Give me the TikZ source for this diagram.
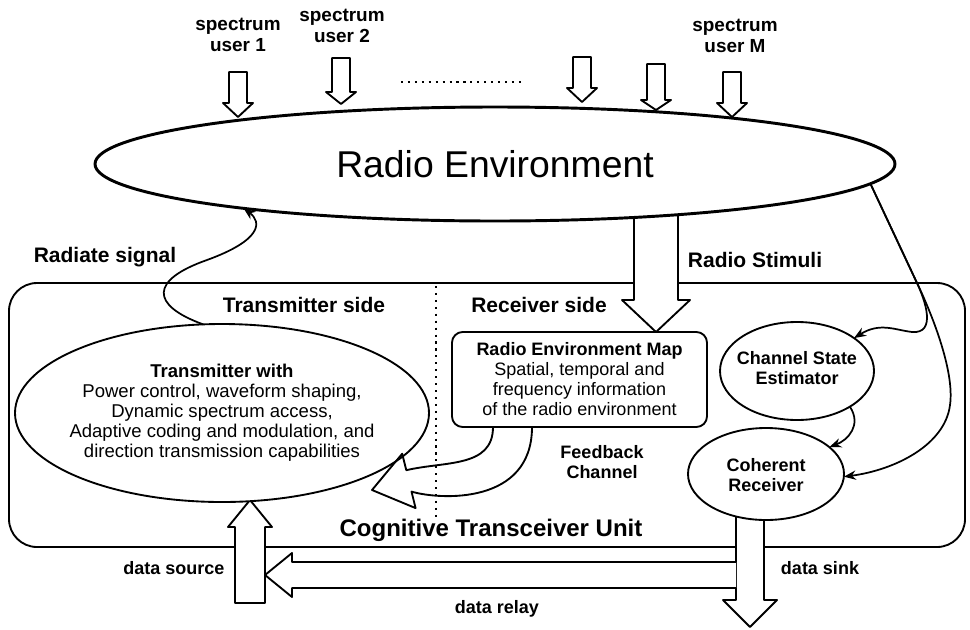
\documentclass[tikz,border=0pt]{standalone}
\usepackage{fontspec}
\setmainfont{Liberation Sans}
\usetikzlibrary{shapes.geometric,arrows.meta}
\begin{document}
\begin{tikzpicture}[x=0.75pt,y=-0.75pt,
  line width=1.4pt, line join=round,
  ell/.style={draw, ellipse, inner sep=0pt, outer sep=0pt, fill=white},
  lbl/.style={font=\fontsize{15.75}{18}\selectfont\bfseries, inner sep=0pt},
  spec/.style={font=\fontsize{14.2}{15.75}\selectfont\bfseries, inner sep=0pt, align=center},
  bodytxt/.style={font=\fontsize{13.9}{15}\selectfont, inner sep=0pt, align=center},
  boldtxt/.style={font=\fontsize{13.5}{15}\selectfont\bfseries, inner sep=0pt, align=center},
  blk/.style={draw, fill=white, line width=1.4pt},
  dots/.style={line width=1.6pt, dash pattern=on 1.6pt off 3.6pt},
  conn/.style={-{Stealth[length=9pt,width=7pt]}, line width=1.3pt}]
\useasboundingbox (0,0) rectangle (970,629);
\fill[white] (0,0) rectangle (970,629);

% cognitive transceiver unit frame
\node[draw, rounded corners=21pt, minimum width=717pt, minimum height=198pt,
      inner sep=0pt, outer sep=0pt] (ctu) at (487,415) {};
\draw[dots] (436,286) -- (436,520);

% radio stimuli block arrow
\draw[blk] (634,200) -- (634,300) -- (622,300) -- (656,332) -- (690,300) -- (678,300) -- (678,200) -- cycle;

% radio environment
\node[ell, line width=2.2pt, minimum width=600pt, minimum height=85.5pt,
      font=\fontsize{28}{32}\selectfont] (re) at (495,164) {Radio Environment};

% spectrum users
\foreach \x/\t/\b/\p in {238/72/103/117, 341/58/92/104, 582/57/88/102, 656/64/100/110, 732/72/103/117}
  \draw[blk] ({\x-9},\t) -- ({\x-9},\b) -- ({\x-15},\b) -- (\x,\p) -- ({\x+15},\b) -- ({\x+9},\b) -- ({\x+9},\t) -- cycle;
\draw[dots] (401,82) -- (524,82);
\node[spec] (u1) at (238,35) {spectrum\\user 1};
\node[spec] (u2) at (342,26) {spectrum\\user 2};
\node[spec] (uM) at (735,36) {spectrum\\user M};

% data arrows
\draw[blk] (736,505) -- (736,600) -- (723,600) -- (750,627) -- (777,600) -- (764,600) -- (764,505) -- cycle;
\draw[blk] (736,562) -- (292,562) -- (292,553) -- (265,575) -- (292,597) -- (292,588) -- (736,588);
\draw[blk] (235,603) -- (235,527) -- (228,527) -- (250,500) -- (272,527) -- (265,527) -- (265,603) -- cycle;

% nodes
\node[ell, minimum width=310.5pt, minimum height=133.5pt] (tx) at (222,413) {};
\node[bodytxt] (txt) at (tx.center) {\textbf{Transmitter with}\\Power control, waveform shaping,\\Dynamic spectrum access,\\Adaptive coding and modulation, and\\direction transmission capabilities};
\node[draw, fill=white, rounded corners=8pt, minimum width=191.25pt, minimum height=71.25pt,
      inner sep=0pt, outer sep=0pt, align=center, font=\fontsize{13.5}{15}\selectfont] (rem) at (579.5,379.5)
  {\textbf{Radio Environment Map}\\Spatial, temporal and\\frequency information\\of the radio environment};
\node[ell, minimum width=115.5pt, minimum height=73.5pt] (cse) at (797,371) {};
\node[boldtxt] (csetxt) at (797,368) {Channel State\\Estimator};
\node[ell, minimum width=117pt, minimum height=69pt] (cr) at (766,474) {};
\node[boldtxt] (crtxt) at (766,475) {Coherent\\Receiver};

% feedback channel arrow
\draw ([xshift=30.75pt]rem.south west) .. controls (493,468) and (445,461) .. (406.3,470.2)
  -- (402.2,453.7) -- (372,490) -- (415.6,508.1) -- (411.5,491.6)
  .. controls (440,500) and (532,505) .. ([xshift=60pt]rem.south west);

% connectors
\draw[conn] (tx.102) .. controls (150,305) and (150,280) .. (207,260)
  .. controls (262,240) and (262,222) .. (re.-170.6);
\draw[conn] (re.-3.2) -- (917,283) .. controls (925,300) and (937,334) .. (912,332)
  .. controls (895,330) and (880,322) .. (cse.30);
\draw[conn] (re.-3.2) -- (917,283) .. controls (930,310) and (955,370) .. (950,405)
  .. controls (945,445) and (895,470) .. (cr.-2);
\draw[conn] (cse.-34) .. controls (862,425) and (848,440) .. (cr.23.5);

% labels
\node[lbl] (radsig) at (105,257) {Radiate signal};
\node[lbl] (stim) at (755,260) {Radio Stimuli};
\node[lbl] (txside) at (304,305) {Transmitter side};
\node[lbl] (rxside) at (539,305) {Receiver side};
\node[boldtxt] (fb) at (602,462) {Feedback\\Channel};
\node[font=\fontsize{18}{20}\selectfont\bfseries, inner sep=0pt] (ctulbl) at (491,530) {Cognitive Transceiver Unit};
\node[boldtxt] (dsrc) at (174,568) {data source};
\node[boldtxt] (dsink) at (820,568) {data sink};
\node[boldtxt] (drel) at (497,609) {data relay};
\end{tikzpicture}
\end{document}
